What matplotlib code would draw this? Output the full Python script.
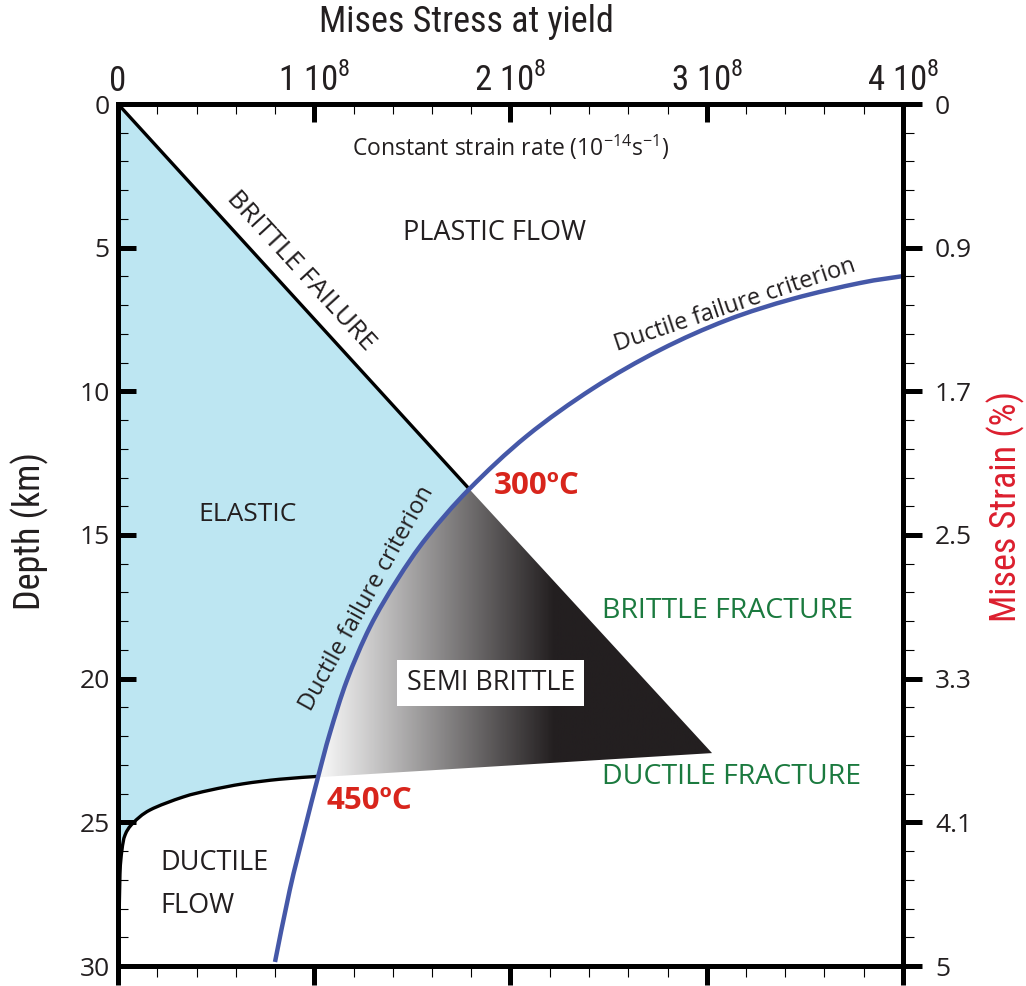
import numpy as np
import matplotlib
matplotlib.use("Agg")
import matplotlib.pyplot as plt
from matplotlib.patches import PathPatch
from matplotlib.path import Path
from matplotlib.colors import LinearSegmentedColormap

# ---------------- data (stress in units of 1e8, depth in km) ----------------
x_ticks = [0, 1, 2, 3, 4]
x_tick_labels = ["0", "1 10$^{\\mathregular{8}}$", "2 10$^{\\mathregular{8}}$",
                 "3 10$^{\\mathregular{8}}$", "4 10$^{\\mathregular{8}}$"]
depth_ticks = [0, 5, 10, 15, 20, 25, 30]
depth_tick_labels = ["0", "5", "10", "15", "20", "25", "30"]
strain_tick_labels = ["0", "0.9", "1.7", "2.5", "3.3", "4.1", "5"]

# brittle failure line (from surface to the 300 C point)
brittle_stress = [0.0, 1.79]
brittle_depth = [0.0, 13.4]

# ductile failure criterion curve (top-right to bottom)
ductile_stress = [4.0, 3.781, 3.439, 3.103, 2.762, 2.420, 2.084, 1.79, 1.575, 1.422,
                  1.284, 1.167, 1.080, 1.019, 0.950, 0.875, 0.800]
ductile_depth = [5.99, 6.23, 6.78, 7.52, 8.56, 9.90, 11.55, 13.4, 15.07, 16.57,
                 18.20, 20.05, 21.89, 23.43, 25.27, 27.36, 29.86]

# ductile flow boundary (from 450 C point to the left axis)
flow_stress = [1.019, 0.825, 0.637, 0.469, 0.331, 0.163, 0.076, 0.036, 0.020, 0.010, 0.005, 0.0]
flow_depth = [23.40, 23.50, 23.66, 23.88, 24.12, 24.57, 25.03, 25.44, 25.97, 26.8, 28.75, 30.0]

# semi brittle wedge apex (lower right)
wedge_apex_stress = 3.027
wedge_apex_depth = 22.59

# ---------------- styles ----------------
TXT = ["Open Sans", "DejaVu Sans"]
COND = ["Roboto Condensed", "PT Sans Narrow", "Fira Sans Condensed", "Open Sans", "DejaVu Sans"]
DARK = "#231f20"
BLUE = "#4558a8"
FILL = "#bde6f2"
RED = "#d8251c"
GREEN = "#1b7a3f"


def smooth_segments(xs, ys):
    """Catmull-Rom through the read points, expressed as cubic Bezier segments."""
    p = np.column_stack([xs, ys]).astype(float)
    n = len(p)
    segs = []
    for i in range(n - 1):
        p0 = p[i - 1] if i > 0 else p[i]
        p1, p2 = p[i], p[i + 1]
        p3 = p[i + 2] if i + 2 < n else p[i + 1]
        segs.append((p1 + (p2 - p0) / 6.0, p2 - (p3 - p1) / 6.0, p2))
    return segs


def add_segments(verts, codes, segs):
    for c1, c2, e in segs:
        verts += [tuple(c1), tuple(c2), tuple(e)]
        codes += [Path.CURVE4] * 3


W, H = 1026, 986
fig = plt.figure(figsize=(W / 100, H / 100), dpi=100)
L, R, T, B = 118, 903, 104, 966
ax = fig.add_axes([L / W, 1 - B / H, (R - L) / W, (B - T) / H])
ax.set_xlim(0, 4)
ax.set_ylim(30, 0)

duct_segs = smooth_segments(ductile_stress, ductile_depth)
flow_segs = smooth_segments(flow_stress, flow_depth)
i300 = ductile_stress.index(1.79)
i450 = ductile_depth.index(23.43)

# elastic (blue) region
v = [(0.0, 0.0), (brittle_stress[1], brittle_depth[1])]
c = [Path.MOVETO, Path.LINETO]
add_segments(v, c, duct_segs[i300:i450])
v.append((flow_stress[0], flow_depth[0])); c.append(Path.LINETO)
add_segments(v, c, flow_segs)
v += [(0.0, 0.0), (0.0, 0.0)]; c += [Path.LINETO, Path.CLOSEPOLY]
ax.add_patch(PathPatch(Path(v, c), facecolor=FILL, edgecolor="none", zorder=1))

# semi brittle gradient wedge
v = [(ductile_stress[i300], ductile_depth[i300])]
c = [Path.MOVETO]
add_segments(v, c, duct_segs[i300:i450])
v += [(wedge_apex_stress, wedge_apex_depth), (ductile_stress[i300], ductile_depth[i300])]
c += [Path.LINETO, Path.CLOSEPOLY]
wedge = PathPatch(Path(v, c), facecolor="none", edgecolor="none")
ax.add_patch(wedge)
cmap = LinearSegmentedColormap.from_list("g", [(0, "#f4f4f4"), (1.0, DARK)])
gx = np.linspace(0.9, 3.2, 600)
grad = np.clip((gx - 1.05) / (2.22 - 1.05), 0, 1)[None, :]
im = ax.imshow(grad, extent=[0.9, 3.2, 24, 13], cmap=cmap, aspect="auto",
               interpolation="bilinear", zorder=1.5, vmin=0, vmax=1)
im.set_clip_path(wedge)

# lines
ax.plot(brittle_stress, brittle_depth, color="black", lw=2.4, zorder=3, solid_capstyle="butt")
v = [(flow_stress[0], flow_depth[0])]; c = [Path.MOVETO]
add_segments(v, c, flow_segs)
ax.add_patch(PathPatch(Path(v, c), facecolor="none", edgecolor="black", lw=2.4, zorder=3))
v = [(ductile_stress[0], ductile_depth[0])]; c = [Path.MOVETO]
add_segments(v, c, duct_segs)
ax.add_patch(PathPatch(Path(v, c), facecolor="none", edgecolor=BLUE, lw=3.2, zorder=4,
                       capstyle="butt"))

# ---------------- axes styling ----------------
for s in ax.spines.values():
    s.set_linewidth(3.6)
    s.set_zorder(6)
ax.xaxis.set_ticks_position("top")
ax.yaxis.set_ticks_position("left")
ax.set_xticks(x_ticks)
ax.set_xticklabels(x_tick_labels, fontfamily=COND, fontsize=25, color=DARK)
ax.set_xticks(np.arange(0, 4.01, 0.2), minor=True)
ax.set_yticks(depth_ticks)
ax.set_yticklabels(depth_tick_labels, fontfamily=TXT, fontsize=19, color=DARK)
ax.set_yticks(np.arange(0, 30.1, 1), minor=True)
ax.tick_params(axis="both", which="major", direction="in", length=13, width=3.6, color="black")
ax.tick_params(axis="both", which="minor", direction="in", length=7, width=0.8, color="black")
ax.tick_params(axis="x", which="major", pad=4)
ax.tick_params(axis="y", which="major", pad=6)
ax.tick_params(axis="x", labeltop=True, labelbottom=False)

sy = ax.secondary_yaxis("right")
sy.set_yticks(depth_ticks)
sy.set_yticklabels(strain_tick_labels, fontfamily=TXT, fontsize=19, color=DARK)
sy.set_yticks(np.arange(0, 30.1, 1), minor=True)
sy.tick_params(which="major", direction="out", length=14, width=3.6, pad=9)
sy.tick_params(which="minor", direction="out", length=8, width=0.8)
sy.spines["right"].set_linewidth(3.6)

sx = ax.secondary_xaxis("bottom")
sx.set_xticks(x_ticks)
sx.set_xticklabels([])
sx.set_xticks(np.arange(0, 4.01, 0.2), minor=True)
sx.tick_params(which="major", direction="out", length=14, width=3.6)
sx.tick_params(which="minor", direction="out", length=8, width=0.8)
sx.spines["bottom"].set_linewidth(3.6)

# ---------------- labels ----------------
fig.text(466 / W, 1 - 22 / H, "Mises Stress at yield", ha="center", va="center",
         fontfamily=COND, fontsize=26, color=DARK)
fig.text(30 / W, 1 - 531 / H, "Depth (km)", ha="center", va="center", rotation=90,
         fontfamily=COND, fontsize=26, color=DARK)
fig.text(1006 / W, 1 - 506 / H, "Mises Strain (%)", ha="center", va="center", rotation=90,
         fontfamily=COND, fontsize=26, color="#dc1f2e")

kw = dict(ha="center", va="center", fontfamily=TXT, color=DARK, zorder=5)
ax.text(2.0, 1.5, "Constant strain rate (10$^{\\mathregular{-14}}$s$^{\\mathregular{-1}}$)",
        fontsize=16.5, **kw)
ax.text(1.92, 4.5, "PLASTIC FLOW", fontsize=19.5, **kw)
ax.text(0.933, 5.81, "BRITTLE FAILURE", fontsize=19, rotation=-47.5, **kw)
ax.text(0.662, 14.3, "ELASTIC", fontsize=19, **kw)
ax.text(3.144, 7.0, "Ductile failure criterion", fontsize=17, rotation=18.5, **kw)
ax.text(1.269, 17.2, "Ductile failure criterion", fontsize=17, rotation=61, **kw)
ax.text(1.90, 20.15, "SEMI BRITTLE", fontsize=19.4,
        bbox=dict(boxstyle="square,pad=0.35", fc="white", ec="none"), **kw)
ax.text(0.214, 26.4, "DUCTILE", fontsize=19.5, ha="left", va="center", fontfamily=TXT,
        color=DARK, zorder=5)
ax.text(0.214, 27.9, "FLOW", fontsize=19.5, ha="left", va="center", fontfamily=TXT,
        color=DARK, zorder=5)

ax.text(2.135, 13.3, "300ºC", fontsize=22.5, fontweight="bold", ha="center", va="center",
        fontfamily=TXT, color=RED, zorder=5)
ax.text(1.279, 24.26, "450ºC", fontsize=22.5, fontweight="bold", ha="center", va="center",
        fontfamily=TXT, color=RED, zorder=5)
ax.text(3.108, 17.65, "BRITTLE FRACTURE", fontsize=20.5, ha="center", va="center",
        fontfamily=TXT, color=GREEN, zorder=5)
ax.text(3.124, 23.43, "DUCTILE FRACTURE", fontsize=20.5, ha="center", va="center",
        fontfamily=TXT, color=GREEN, zorder=5)

fig.savefig("out.png", dpi=100)
